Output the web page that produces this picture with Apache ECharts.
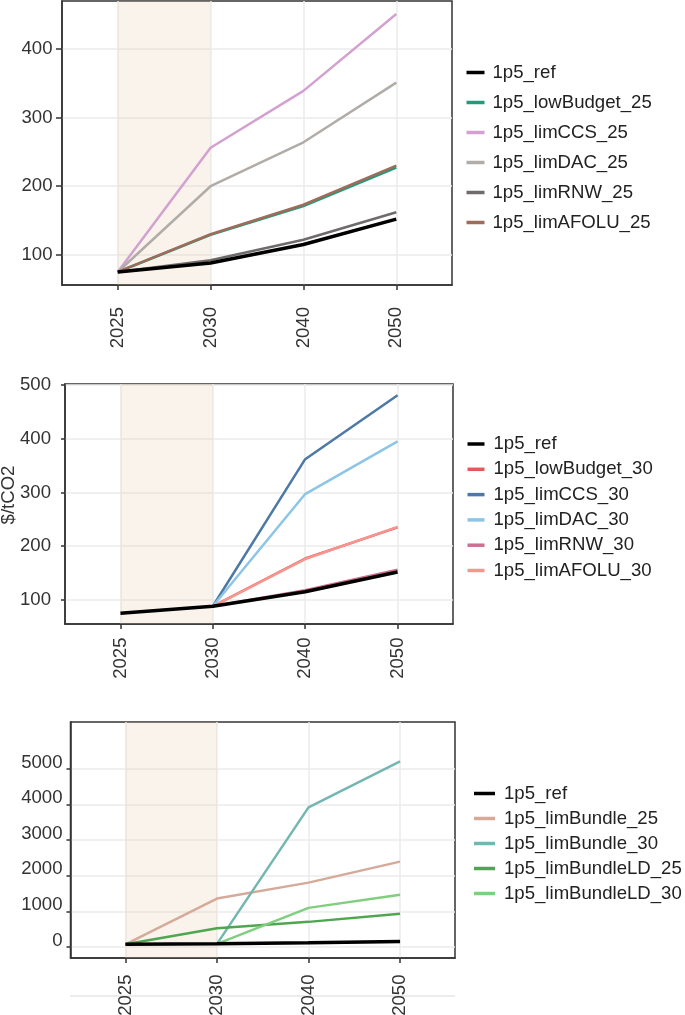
<!DOCTYPE html>
<html>
<head>
<meta charset="utf-8">
<script src="https://cdn.jsdelivr.net/npm/echarts@6/dist/echarts.min.js"></script>
<style>html,body{margin:0;padding:0;background:#fff}#c{width:685px;height:1015px}</style>
</head>
<body>
<div id="c"></div>
<script>
// ---- data ----
const years = ['2025', '2030', '2040', '2050'];
const ref = [75, 88, 115, 152];

// panel 1
const lowBudget25 = [75, 129, 171, 227];
const limCCS25 = [75, 256, 339, 451];
const limDAC25 = [75, 200, 264, 351];
const limRNW25 = [75, 92, 122, 162];
const limAFOLU25 = [75, 130, 173, 230];

// panel 2
const lowBudget30 = [null, 88, 177, 235];
const limCCS30 = [null, 88, 362, 481];
const limDAC30 = [null, 88, 297, 395];
const limRNW30 = [null, 88, 118, 156];
const limAFOLU30 = [null, 88, 176, 236];

// panel 3
const limBundle25 = [75, 1360, 1808, 2398];
const limBundle30 = [null, 88, 3922, 5214];
const limBundleLD25 = [75, 525, 705, 930];
const limBundleLD30 = [null, 88, 1098, 1464];

const yTicks1 = [100, 200, 300, 400];
const yTicks2 = [100, 200, 300, 400, 500];
const yTicks3 = [0, 1000, 2000, 3000, 4000, 5000];
const xTicks = [0, 1, 2, 3];

const FONT = "'Liberation Sans', Arial, Helvetica, sans-serif";
const FS = 18.6;
const AX = '#333333';
const GRIDC = '#ebebeb';

const panels = [
  {
    grid: {left: 62, top: 1, width: 390, height: 284},
    ymin: 56, ymax: 470, yTicks: yTicks1, yMargin: 9.5, yTick: 6, xMargin: 22, above: false,
    legend: {left: 466.5, top: 62.5, itemWidth: 18, gap: 10, pad: 3},
    series: [
      ['1p5_ref', ref, '#000000'],
      ['1p5_lowBudget_25', lowBudget25, '#1f9c7c'],
      ['1p5_limCCS_25', limCCS25, '#d3a1cf'],
      ['1p5_limDAC_25', limDAC25, '#b1aca8'],
      ['1p5_limRNW_25', limRNW25, '#6f6b6b'],
      ['1p5_limAFOLU_25', limAFOLU25, '#9d6c5a']
    ]
  },
  {
    grid: {left: 65, top: 384, width: 388, height: 240},
    ymin: 55, ymax: 502, yTicks: yTicks2, yMargin: 14, yTick: 4, xMargin: 13.5, above: false,
    name: '$/tCO2',
    legend: {left: 467.5, top: 434, itemWidth: 17, gap: 5.3, pad: 4},
    series: [
      ['1p5_ref', ref, '#000000'],
      ['1p5_lowBudget_30', lowBudget30, '#e25a5c'],
      ['1p5_limCCS_30', limCCS30, '#4e79a7'],
      ['1p5_limDAC_30', limDAC30, '#8cc5e6'],
      ['1p5_limRNW_30', limRNW30, '#cd6f92'],
      ['1p5_limAFOLU_30', limAFOLU30, '#f7958f']
    ]
  },
  {
    grid: {left: 70.5, top: 722, width: 384.5, height: 236},
    ymin: -310, ymax: 6320, yTicks: yTicks3, yMargin: 8, yTick: 4, xMargin: 16.5, above: true,
    legend: {left: 474, top: 783.5, itemWidth: 21, gap: 5, pad: 4},
    series: [
      ['1p5_ref', ref, '#000000'],
      ['1p5_limBundle_25', limBundle25, '#d5aa99'],
      ['1p5_limBundle_30', limBundle30, '#72b7b0'],
      ['1p5_limBundleLD_25', limBundleLD25, '#4ea64f'],
      ['1p5_limBundleLD_30', limBundleLD30, '#80cf7f']
    ]
  }
];

const grid = [], xAxis = [], yAxis = [], legend = [], series = [];
panels.forEach((p, gi) => {
  grid.push(Object.assign({show: true, borderColor: AX, borderWidth: 1.5, backgroundColor: 'transparent',
    containLabel: false, outerBoundsMode: 'none'}, p.grid));
  xAxis.push({
    type: 'value', gridIndex: gi, min: -0.6, max: 3.6,
    axisLine: {show: true, onZero: false, lineStyle: {color: AX, width: 1.5}},
    axisTick: {show: true, customValues: xTicks, length: 5, lineStyle: {color: AX, width: 1.5}},
    axisLabel: {customValues: xTicks, rotate: 90, margin: p.xMargin, fontSize: FS, color: AX, fontFamily: FONT,
      formatter: v => years[Math.round(v)] || ''},
    splitLine: {show: true, lineStyle: {color: GRIDC, width: 1.5}}
  });
  const lbl = {customValues: p.yTicks, margin: p.yMargin, fontSize: FS, color: AX, fontFamily: FONT,
    formatter: v => String(v)};
  if (p.above) { lbl.verticalAlign = 'bottom'; lbl.lineHeight = 13; }
  const ya = {
    type: 'value', gridIndex: gi, min: p.ymin, max: p.ymax,
    axisLine: {show: true, onZero: false, lineStyle: {color: AX, width: 1.5}},
    axisTick: {show: true, customValues: p.yTicks, length: p.yTick, lineStyle: {color: AX, width: 1.5}},
    axisLabel: lbl,
    splitLine: {show: true, lineStyle: {color: GRIDC, width: 1.5}}
  };
  if (p.name) {
    ya.name = p.name; ya.nameLocation = 'middle'; ya.nameGap = 47; ya.nameMoveOverlap = false;
    ya.nameTextStyle = {fontSize: FS, color: AX, fontFamily: FONT, padding: [0, 0, 0, 18]};
  }
  yAxis.push(ya);
  legend.push({
    orient: 'vertical', left: p.legend.left, top: p.legend.top, icon: 'rect', padding: 0,
    itemWidth: p.legend.itemWidth, itemHeight: 3.5, itemGap: p.legend.gap,
    textStyle: {fontSize: FS, lineHeight: 20, color: '#222', fontFamily: FONT, padding: [0, 0, 0, p.legend.pad]},
    data: p.series.map(s => s[0]), selectedMode: false
  });
  // shading for the 2025-2030 period
  series.push({
    type: 'line', xAxisIndex: gi, yAxisIndex: gi, data: [], silent: true, z: 1,
    markArea: {silent: true, itemStyle: {color: 'rgba(232,200,170,0.22)'}, data: [[{xAxis: 0}, {xAxis: 1}]]}
  });
  const ordered = p.series.slice(1).concat([p.series[0]]);
  ordered.forEach(s => {
    const isRef = s[0] === '1p5_ref';
    series.push({
      name: s[0], type: 'line', xAxisIndex: gi, yAxisIndex: gi, symbol: 'none', animation: false,
      z: isRef ? 4 : 3,
      itemStyle: {color: s[2]},
      lineStyle: {color: s[2], width: isRef ? 3.5 : 2.5},
      data: s[1].map((v, i) => v == null ? null : [i, v]).filter(d => d)
    });
  });
});

const chart = echarts.init(document.getElementById('c'), null, {renderer: 'canvas'});
chart.setOption({
  animation: false,
  backgroundColor: '#ffffff',
  textStyle: {fontFamily: FONT},
  grid, xAxis, yAxis, legend, series,
  graphic: [{
    type: 'line', z: -1, silent: true,
    shape: {x1: 70, y1: 996, x2: 455, y2: 996},
    style: {stroke: '#e6e6e6', lineWidth: 1.5}
  }]
});
</script>
</body>
</html>
